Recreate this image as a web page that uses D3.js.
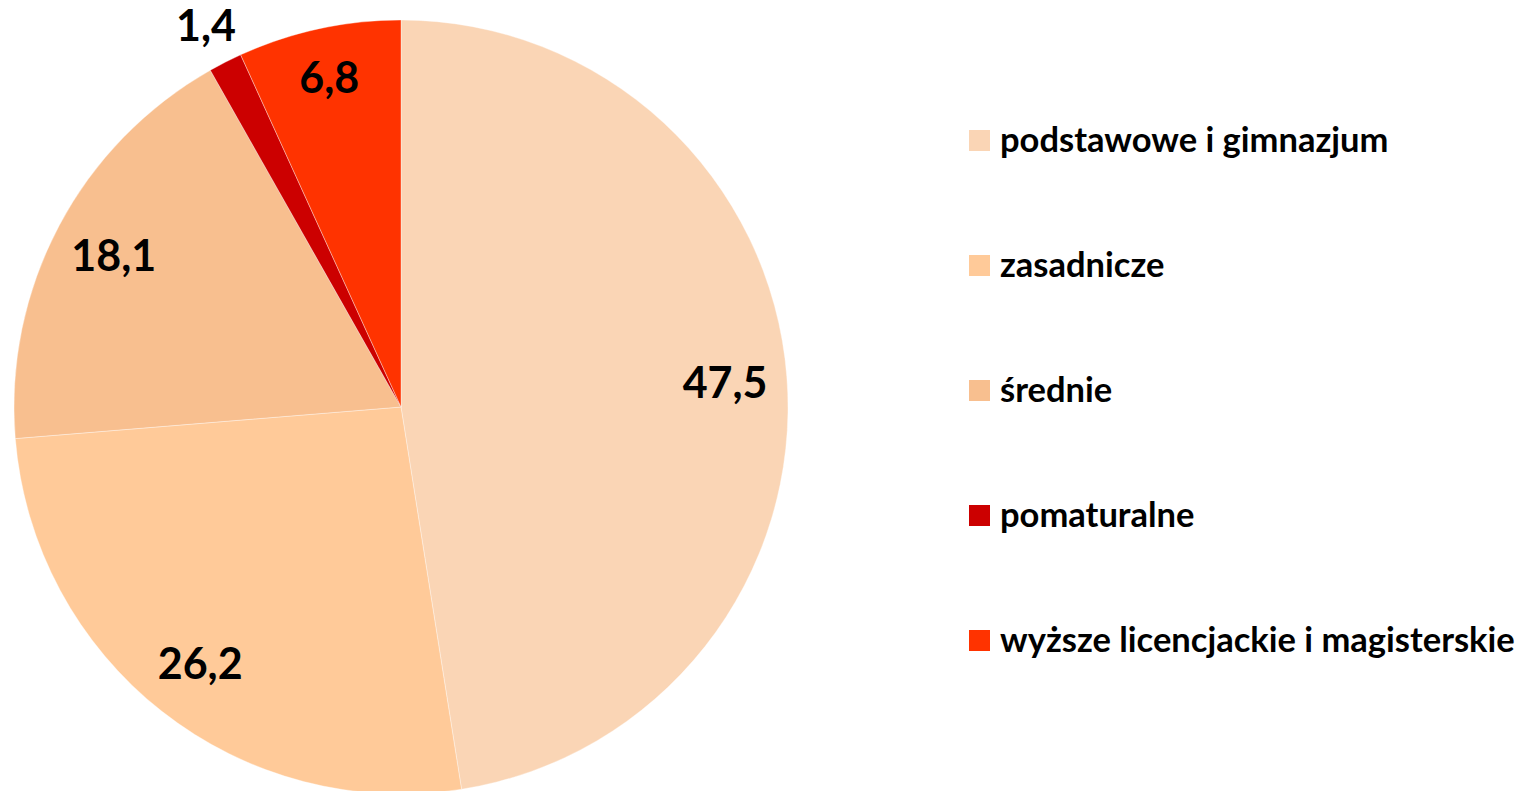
<!DOCTYPE html>
<html><head><meta charset="utf-8">
<script src="https://cdn.jsdelivr.net/npm/d3@7"></script>
<style>body{margin:0;background:#fff}svg{display:block}</style>
</head><body>
<svg id="chart" width="1522" height="791"></svg>
<script>
const categories = ["podstawowe i gimnazjum","zasadnicze","średnie","pomaturalne","wyższe licencjackie i magisterskie"];
const values = [47.5, 26.2, 18.1, 1.4, 6.8];
const labels = ["47,5","26,2","18,1","1,4","6,8"];
const colors = ["#FAD5B5","#FFCA99","#F8BF8F","#CC0000","#FF3300"];

const svg = d3.select("#chart");
const cx = 401, cy = 407, R = 387;
const FONT = "Lato, 'Open Sans', sans-serif";

const data = categories.map((c,i)=>({cat:c, value:values[i], label:labels[i], color:colors[i]}));
const pie = d3.pie().value(d=>d.value).sort(null);
const arcs = pie(data);
const arc = d3.arc().innerRadius(0).outerRadius(R);

const g = svg.append("g").attr("transform",`translate(${cx},${cy})`);
g.selectAll("path").data(arcs).enter().append("path")
  .attr("d",arc).attr("fill",d=>d.data.color)
  .attr("stroke","#fff").attr("stroke-width",0.6).attr("stroke-opacity",0.6);

function labelPos(d){
  let f = d.data.value < 3 ? 1.11 : (d.data.value < 10 ? 0.875 : 0.84);
  const a = d3.arc().innerRadius(R*f).outerRadius(R*f);
  return a.centroid(d);
}
g.selectAll("text").data(arcs).enter().append("text")
  .attr("transform",d=>{const c=labelPos(d);return `translate(${c[0]},${c[1]})`;})
  .attr("text-anchor","middle").attr("dominant-baseline","central")
  .attr("font-family",FONT).attr("font-weight","bold").attr("font-size",43)
  .attr("fill","#000").text(d=>d.data.label);

const legend = svg.append("g");
const ly = d3.scalePoint().domain(categories).range([140,640]);
const items = legend.selectAll("g").data(data).enter().append("g")
  .attr("transform",d=>`translate(969,${ly(d.cat)})`);
items.append("rect").attr("x",0).attr("y",-10).attr("width",21).attr("height",21).attr("fill",d=>d.color);
items.append("text").attr("x",31).attr("y",-2).attr("dominant-baseline","central")
  .attr("font-family",FONT).attr("font-weight","bold").attr("font-size",34.5)
  .attr("fill","#000").text(d=>d.cat);
</script>
</body></html>
